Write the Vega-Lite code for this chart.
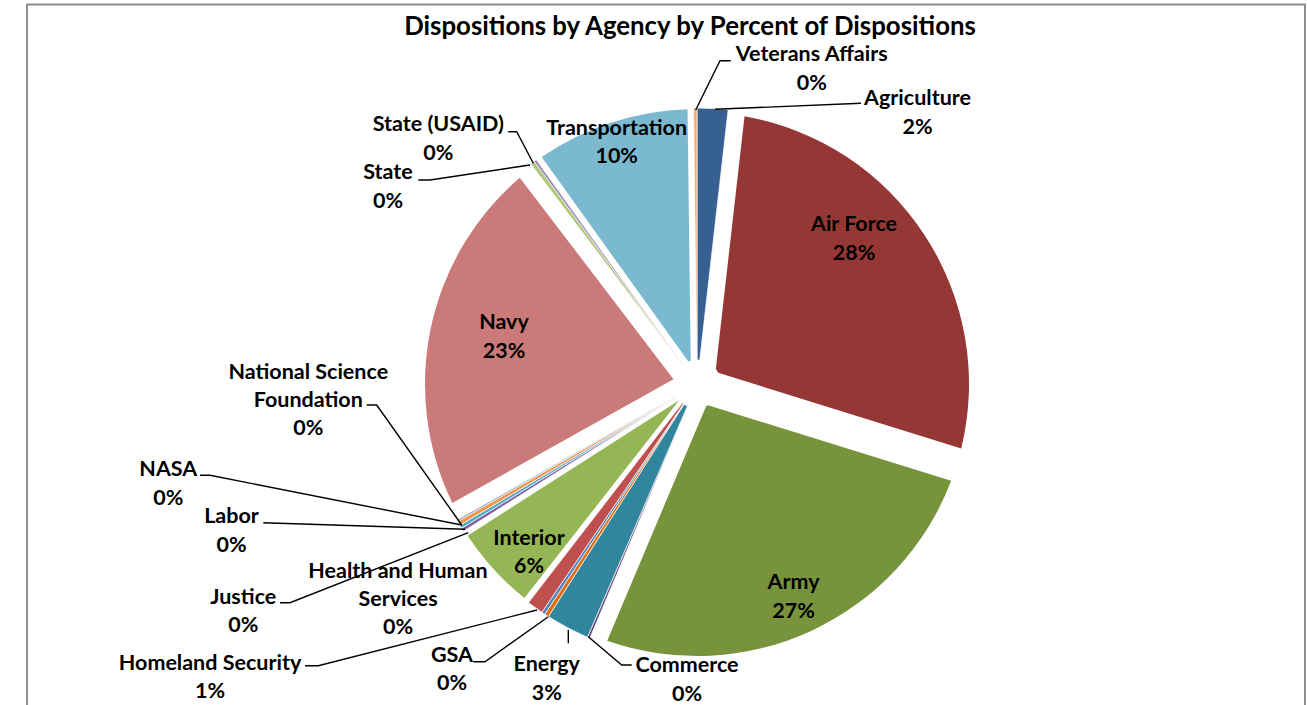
{
  "$schema": "https://vega.github.io/schema/vega-lite/v6.json",
  "width": 1307,
  "height": 660,
  "autosize": "none",
  "padding": {"left": 0, "right": 0, "top": 45, "bottom": 0},
  "background": "white",
  "title": {"text": "Dispositions by Agency by Percent of Dispositions", "font": "Lato", "fontSize": 25.8, "fontWeight": "bold", "color": "black", "anchor": "middle", "frame": "group", "dx": 36.5, "offset": 0, "dy": 37},
  "config": {"view": {"stroke": null}},
  "datasets": {
    "agencies": [
      {"agency": "Agriculture", "share": 0.018},
      {"agency": "Air Force", "share": 0.28},
      {"agency": "Army", "share": 0.2655},
      {"agency": "Commerce", "share": 0.0015},
      {"agency": "Energy", "share": 0.0255},
      {"agency": "GSA", "share": 0.0025},
      {"agency": "Health and Human Services", "share": 0.002},
      {"agency": "Homeland Security", "share": 0.0095},
      {"agency": "Interior", "share": 0.056},
      {"agency": "Justice", "share": 0.002},
      {"agency": "Labor", "share": 0.002},
      {"agency": "NASA", "share": 0.0025},
      {"agency": "National Science Foundation", "share": 0.001},
      {"agency": "Navy", "share": 0.229},
      {"agency": "State", "share": 0.0025},
      {"agency": "State (USAID)", "share": 0.0015},
      {"agency": "Transportation", "share": 0.097},
      {"agency": "Veterans Affairs", "share": 0.002}
    ],
    "labels": [
      {"agency": "Agriculture", "name": "Agriculture", "lx": 87.5, "ly": 107.84},
      {"agency": "Air Force", "name": "Air Force", "lx": 62.3, "ly": 57.94},
      {"agency": "Army", "name": "Army", "lx": 38.29, "ly": -84.13},
      {"agency": "Commerce", "name": "Commerce", "lx": -3.97, "ly": -117.06},
      {"agency": "Energy", "name": "Energy", "lx": -59.64, "ly": -116.67},
      {"agency": "GSA", "name": "GSA", "lx": -97.22, "ly": -112.98},
      {"agency": "Health and Human Services", "name": "Health and Human\nServices", "lx": -118.65, "ly": -90.6},
      {"agency": "Homeland Security", "name": "Homeland Security", "lx": -193.25, "ly": -116.07},
      {"agency": "Interior", "name": "Interior", "lx": -66.67, "ly": -66.55},
      {"agency": "Justice", "name": "Justice", "lx": -180.04, "ly": -89.88},
      {"agency": "Labor", "name": "Labor", "lx": -184.72, "ly": -57.94},
      {"agency": "NASA", "name": "NASA", "lx": -209.8, "ly": -39.29},
      {"agency": "National Science Foundation", "name": "National Science\nFoundation", "lx": -154.25, "ly": -11.71},
      {"agency": "Navy", "name": "Navy", "lx": -76.59, "ly": 19.05},
      {"agency": "State", "name": "State", "lx": -122.62, "ly": 78.57},
      {"agency": "State (USAID)", "name": "State (USAID)", "lx": -102.66, "ly": 97.62},
      {"agency": "Transportation", "name": "Transportation", "lx": -31.87, "ly": 96.23},
      {"agency": "Veterans Affairs", "name": "Veterans Affairs", "lx": 45.52, "ly": 125.4}
    ],
    "leaders": [
      {"agency": "Veterans Affairs", "step": 1, "lx": -0.52, "ly": 108.73},
      {"agency": "Veterans Affairs", "step": 2, "lx": 9.13, "ly": 128.29},
      {"agency": "Veterans Affairs", "step": 3, "lx": 13.37, "ly": 128.29},
      {"agency": "Agriculture", "step": 1, "lx": 7.14, "ly": 109.01},
      {"agency": "Agriculture", "step": 2, "lx": 65.08, "ly": 111.39},
      {"agency": "State (USAID)", "step": 1, "lx": -74.88, "ly": 100.12},
      {"agency": "State (USAID)", "step": 2, "lx": -71.55, "ly": 100.12},
      {"agency": "State (USAID)", "step": 3, "lx": -64.96, "ly": 87.58},
      {"agency": "State", "step": 1, "lx": -110.6, "ly": 80.95},
      {"agency": "State", "step": 2, "lx": -105.95, "ly": 80.95},
      {"agency": "State", "step": 3, "lx": -66.27, "ly": 86.9},
      {"agency": "National Science Foundation", "step": 1, "lx": -131.07, "ly": -8.33},
      {"agency": "National Science Foundation", "step": 2, "lx": -127.1, "ly": -8.33},
      {"agency": "National Science Foundation", "step": 3, "lx": -93.37, "ly": -55.95},
      {"agency": "NASA", "step": 1, "lx": -197.22, "ly": -36.23},
      {"agency": "NASA", "step": 2, "lx": -193.25, "ly": -36.23},
      {"agency": "NASA", "step": 3, "lx": -93.37, "ly": -55.95},
      {"agency": "Labor", "step": 1, "lx": -172.1, "ly": -55.04},
      {"agency": "Labor", "step": 2, "lx": -92.06, "ly": -57.66},
      {"agency": "Justice", "step": 1, "lx": -165.48, "ly": -86.79},
      {"agency": "Justice", "step": 2, "lx": -161.51, "ly": -86.79},
      {"agency": "Justice", "step": 3, "lx": -90.75, "ly": -59.01},
      {"agency": "Homeland Security", "step": 1, "lx": -155.56, "ly": -111.79},
      {"agency": "Homeland Security", "step": 2, "lx": -150.28, "ly": -111.79},
      {"agency": "Homeland Security", "step": 3, "lx": -63.49, "ly": -89.68},
      {"agency": "GSA", "step": 1, "lx": -88.77, "ly": -110.2},
      {"agency": "GSA", "step": 2, "lx": -84.13, "ly": -110.2},
      {"agency": "GSA", "step": 3, "lx": -59.01, "ly": -92.34},
      {"agency": "Energy", "step": 1, "lx": -51.07, "ly": -97.62},
      {"agency": "Energy", "step": 2, "lx": -51.07, "ly": -102.9},
      {"agency": "Commerce", "step": 1, "lx": -43.13, "ly": -100.28},
      {"agency": "Commerce", "step": 2, "lx": -29.88, "ly": -111.51},
      {"agency": "Commerce", "step": 3, "lx": -25.91, "ly": -111.51}
    ]
  },
  "layer": [
    {
      "data": {"values": [{}]},
      "mark": {"type": "rect", "filled": false, "stroke": "#8e8e8e", "strokeWidth": 2},
      "encoding": {
        "x": {"datum": -265.873, "type": "quantitative", "scale": {"domain": [-276.587, 242.063], "nice": false, "zero": false}, "axis": null},
        "x2": {"datum": 241.27},
        "y": {"datum": 150.595, "type": "quantitative", "scale": {"domain": [-127.381, 134.524], "nice": false, "zero": false}, "axis": null},
        "y2": {"datum": -133.333}
      }
    },
    {
      "data": {"name": "agencies"},
      "transform": [
        {"stack": "share", "groupby": [], "sort": [{"field": "agency", "order": "ascending"}], "as": ["s0", "s1"]},
        {"filter": {"field": "agency", "oneOf": ["Air Force", "Army", "Navy"]}}
      ],
      "mark": {"type": "arc", "innerRadius": 24, "outerRadius": 272, "padAngle": 0.1246},
      "encoding": {
        "theta": {"field": "s0", "type": "quantitative", "scale": {"domain": [0, 1], "range": [0, 6.283185307179586]}},
        "theta2": {"field": "s1"},
        "x": {"datum": 0, "type": "quantitative", "scale": {"domain": [-276.587, 242.063], "nice": false, "zero": false}, "axis": null},
        "y": {"datum": 0, "type": "quantitative", "scale": {"domain": [-127.381, 134.524], "nice": false, "zero": false}, "axis": null},
        "color": {"field": "agency", "type": "nominal", "legend": null, "scale": {
          "domain": ["Agriculture", "Air Force", "Army", "Commerce", "Energy", "GSA", "Health and Human Services", "Homeland Security", "Interior", "Justice", "Labor", "NASA", "National Science Foundation", "Navy", "State", "State (USAID)", "Transportation", "Veterans Affairs"],
          "range": ["#376092", "#953735", "#77933C", "#604A7B", "#31859C", "#E46C0A", "#4F81BD", "#C0504D", "#95B654", "#8064A2", "#4BACC6", "#F79646", "#729ACA", "#CA7A79", "#AFC97A", "#9E83B5", "#7AB9CF", "#F9AB6B"]}}
      }
    },
    {
      "data": {"name": "agencies"},
      "transform": [
        {"stack": "share", "groupby": [], "sort": [{"field": "agency", "order": "ascending"}], "as": ["s0", "s1"]},
        {"filter": {"field": "agency", "oneOf": ["Transportation", "Interior"]}}
      ],
      "mark": {"type": "arc", "innerRadius": 24, "outerRadius": 275, "padAngle": 0.0435},
      "encoding": {
        "theta": {"field": "s0", "type": "quantitative", "scale": {"domain": [0, 1], "range": [0, 6.283185307179586]}},
        "theta2": {"field": "s1"},
        "x": {"datum": 0, "type": "quantitative", "scale": {"domain": [-276.587, 242.063], "nice": false, "zero": false}, "axis": null},
        "y": {"datum": 0, "type": "quantitative", "scale": {"domain": [-127.381, 134.524], "nice": false, "zero": false}, "axis": null},
        "color": {"field": "agency", "type": "nominal", "legend": null}
      }
    },
    {
      "data": {"name": "agencies"},
      "transform": [
        {"stack": "share", "groupby": [], "sort": [{"field": "agency", "order": "ascending"}], "as": ["s0", "s1"]},
        {"filter": {"not": {"field": "agency", "oneOf": ["Air Force", "Army", "Navy", "Transportation", "Interior"]}}}
      ],
      "mark": {"type": "arc", "innerRadius": 24, "outerRadius": 276, "stroke": "white", "strokeWidth": 0.7},
      "encoding": {
        "theta": {"field": "s0", "type": "quantitative", "scale": {"domain": [0, 1], "range": [0, 6.283185307179586]}},
        "theta2": {"field": "s1"},
        "x": {"datum": 0, "type": "quantitative", "scale": {"domain": [-276.587, 242.063], "nice": false, "zero": false}, "axis": null},
        "y": {"datum": 0, "type": "quantitative", "scale": {"domain": [-127.381, 134.524], "nice": false, "zero": false}, "axis": null},
        "color": {"field": "agency", "type": "nominal", "legend": null}
      }
    },
    {
      "data": {"name": "leaders"},
      "mark": {"type": "line", "color": "black", "strokeWidth": 1.4},
      "encoding": {
        "x": {"field": "lx", "type": "quantitative", "scale": {"domain": [-276.587, 242.063], "nice": false, "zero": false}, "axis": null},
        "y": {"field": "ly", "type": "quantitative", "scale": {"domain": [-127.381, 134.524], "nice": false, "zero": false}, "axis": null},
        "detail": {"field": "agency", "type": "nominal"},
        "order": {"field": "step", "type": "quantitative"}
      }
    },
    {
      "data": {"name": "labels"},
      "transform": [{"filter": "indexof(datum.name, '\\n') < 0"}],
      "mark": {"type": "text", "font": "Lato", "fontSize": 21.5, "fontWeight": "bold", "color": "black", "align": "center", "baseline": "bottom", "dy": -1.8},
      "encoding": {
        "x": {"field": "lx", "type": "quantitative", "scale": {"domain": [-276.587, 242.063], "nice": false, "zero": false}, "axis": null},
        "y": {"field": "ly", "type": "quantitative", "scale": {"domain": [-127.381, 134.524], "nice": false, "zero": false}, "axis": null},
        "text": {"field": "name", "type": "nominal"}
      }
    },
    {
      "data": {"name": "labels"},
      "transform": [{"filter": "indexof(datum.name, '\\n') >= 0"}],
      "mark": {"type": "text", "font": "Lato", "fontSize": 21.5, "fontWeight": "bold", "color": "black", "align": "center", "baseline": "bottom", "dy": -29.3, "lineHeight": 27.5, "lineBreak": "\n"},
      "encoding": {
        "x": {"field": "lx", "type": "quantitative", "scale": {"domain": [-276.587, 242.063], "nice": false, "zero": false}, "axis": null},
        "y": {"field": "ly", "type": "quantitative", "scale": {"domain": [-127.381, 134.524], "nice": false, "zero": false}, "axis": null},
        "text": {"field": "name", "type": "nominal"}
      }
    },
    {
      "data": {"name": "agencies"},
      "transform": [
        {"lookup": "agency", "from": {"data": {"name": "labels"}, "key": "agency", "fields": ["lx", "ly"]}}
      ],
      "mark": {"type": "text", "font": "Lato", "fontSize": 21.5, "fontWeight": "bold", "color": "black", "align": "center", "baseline": "top", "dy": 4.7},
      "encoding": {
        "x": {"field": "lx", "type": "quantitative", "scale": {"domain": [-276.587, 242.063], "nice": false, "zero": false}, "axis": null},
        "y": {"field": "ly", "type": "quantitative", "scale": {"domain": [-127.381, 134.524], "nice": false, "zero": false}, "axis": null},
        "text": {"field": "share", "type": "quantitative", "format": ".0%"}
      }
    }
  ]
}
